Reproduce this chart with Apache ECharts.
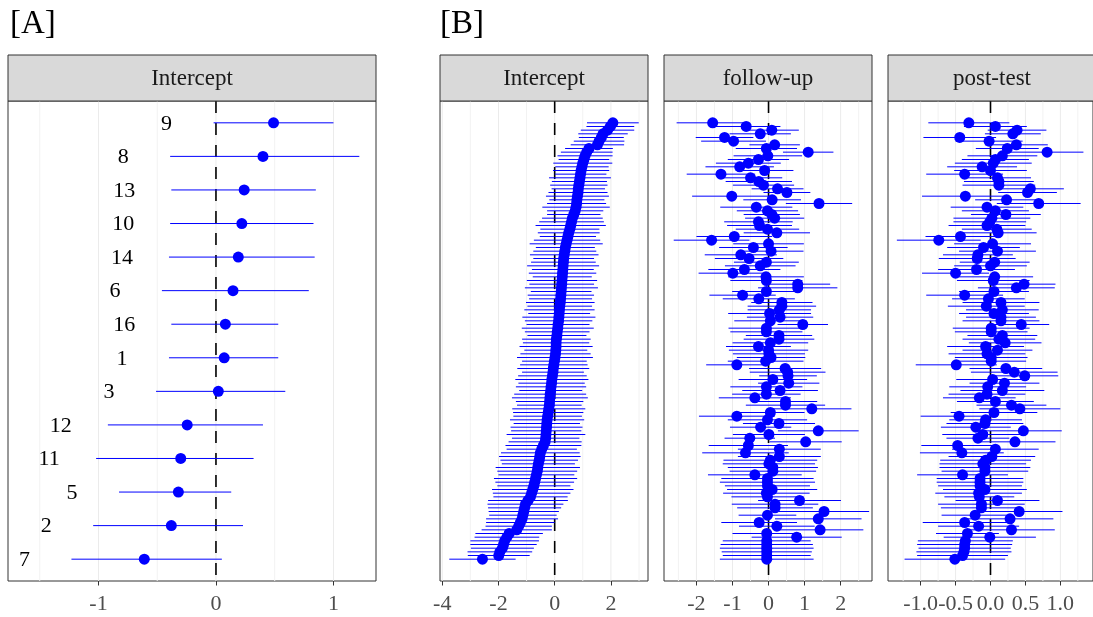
<!DOCTYPE html>
<html>
<head>
<meta charset="utf-8">
<title>Random effects</title>
<script src="https://cdn.jsdelivr.net/npm/echarts@6/dist/echarts.min.js"></script>
<style>
html, body { margin: 0; padding: 0; background: #fff; }
#main { width: 1093px; height: 617px; }
</style>
</head>
<body>
<div id="main"></div>
<script>
// ---- panel [A]: group intercepts, top to bottom ----
var groupsA = ['9', '8', '13', '10', '14', '6', '16', '1', '3', '12', '11', '5', '2', '7'];
var estA  = [0.49, 0.40, 0.24, 0.22, 0.19, 0.145, 0.08, 0.07, 0.02, -0.245, -0.30, -0.32, -0.38, -0.61];
var lowA  = [-0.02, -0.39, -0.38, -0.39, -0.40, -0.46, -0.38, -0.40, -0.51, -0.92, -1.02, -0.825, -1.045, -1.23];
var highA = [1.00, 1.22, 0.85, 0.83, 0.84, 0.79, 0.53, 0.53, 0.59, 0.40, 0.32, 0.13, 0.23, 0.05];

// ---- panel [B]: 120 units, sorted by intercept (top to bottom) ----
var estInt = [
  2.07, 1.98, 1.88, 1.72, 1.66, 1.58, 1.52, 1.22, 1.14, 1.08,
  1.04, 1.00, 0.97, 0.94, 0.92, 0.90, 0.88, 0.86, 0.84, 0.83,
  0.81, 0.79, 0.78, 0.76, 0.73, 0.68, 0.63, 0.60, 0.57, 0.54,
  0.50, 0.47, 0.44, 0.41, 0.38, 0.36, 0.34, 0.32, 0.31, 0.30,
  0.29, 0.28, 0.27, 0.26, 0.25, 0.24, 0.23, 0.22, 0.21, 0.20,
  0.18, 0.17, 0.16, 0.15, 0.14, 0.12, 0.11, 0.09, 0.08, 0.06,
  0.05, 0.05, 0.04, 0.03, 0.01, -0.01, -0.03, -0.05, -0.06, -0.08,
  -0.10, -0.11, -0.13, -0.14, -0.16, -0.17, -0.18, -0.19, -0.21, -0.23,
  -0.25, -0.27, -0.28, -0.29, -0.30, -0.31, -0.32, -0.34, -0.40, -0.46,
  -0.51, -0.53, -0.55, -0.58, -0.60, -0.62, -0.65, -0.68, -0.71, -0.74,
  -0.78, -0.82, -0.86, -0.95, -1.04, -1.07, -1.10, -1.13, -1.16, -1.22,
  -1.28, -1.35, -1.62, -1.70, -1.78, -1.82, -1.86, -1.95, -1.99, -2.57
];
var errInt = [
  0.92, 0.85, 0.95, 0.88, 0.80, 0.90, 0.95, 0.85, 0.92, 0.98,
  0.90, 1.05, 0.95, 1.00, 0.92, 1.10, 0.98, 1.02, 0.95, 1.05,
  1.12, 0.98, 1.05, 1.20, 1.00, 0.95, 1.08, 1.15, 1.25, 1.05,
  1.10, 1.00, 1.18, 1.30, 1.05, 1.12, 1.22, 1.08, 1.15, 1.28,
  1.10, 1.20, 1.05, 1.25, 1.15, 1.30, 1.08, 1.18, 1.12, 1.22,
  1.15, 1.25, 1.10, 1.30, 1.20, 1.12, 1.28, 1.15, 1.05, 1.22,
  1.18, 1.30, 1.12, 1.25, 1.35, 1.15, 1.20, 1.28, 1.10, 1.22,
  1.30, 1.18, 1.25, 1.12, 1.28, 1.35, 1.20, 1.15, 1.30, 1.25,
  1.22, 1.32, 1.18, 1.28, 1.25, 1.40, 1.20, 1.30, 1.35, 1.25,
  1.40, 1.45, 1.38, 1.30, 1.50, 1.42, 1.35, 1.48, 1.40, 1.30,
  1.45, 1.38, 1.32, 1.42, 1.35, 1.30, 1.25, 1.20, 1.28, 1.22,
  1.18, 1.25, 1.20, 1.15, 1.22, 1.18, 1.12, 1.15, 1.10, 1.18
];
var estFollow = [
  -1.55, -0.62, 0.09, -0.23, -1.22, -0.97, 0.17, -0.06, 1.10, -0.02,
  -0.28, -0.56, -0.80, -0.11, -1.32, -0.50, -0.27, -0.14, 0.25, 0.51,
  -1.02, 0.10, 1.40, -0.34, -0.03, 0.09, 0.17, -0.28, -0.25, -0.03,
  0.23, -0.95, -1.58, 0.00, -0.42, 0.07, -0.77, -0.54, -0.06, -0.23,
  -0.67, -0.99, -0.07, -0.06, 0.81, 0.81, -0.06, -0.72, -0.27, 0.37,
  0.37, 0.30, 0.03, 0.32, 0.05, 0.95, -0.06, -0.06, 0.29, 0.29,
  0.05, -0.28, 0.00, 0.01, 0.07, -0.08, -0.88, 0.46, 0.53, 0.54,
  0.12, 0.56, -0.06, 0.32, -0.06, -0.38, 0.47, 0.47, 1.20, 0.05,
  -0.88, -0.03, 0.29, -0.22, 1.38, 0.01, -0.52, 1.03, -0.56, 0.30,
  -0.64, 0.30, 0.05, 0.01, 0.12, 0.12, -0.38, -0.03, -0.03, -0.03,
  0.10, -0.06, -0.03, 0.86, 0.18, 0.18, 1.54, -0.03, 1.38, -0.26,
  0.23, 1.43, -0.05, 0.78, -0.05, -0.05, -0.05, -0.05, -0.05, -0.05
];
var errFollow = [
  1.00, 0.95, 0.75, 0.85, 0.80, 0.90, 0.70, 0.85, 0.70, 0.95,
  0.85, 0.90, 0.95, 0.80, 0.95, 0.88, 0.92, 0.85, 0.72, 0.65,
  1.10, 0.80, 0.92, 1.00, 0.85, 0.78, 0.82, 0.95, 0.90, 0.88,
  0.92, 1.05, 1.05, 0.98, 0.95, 0.90, 1.00, 0.95, 0.90, 0.98,
  1.00, 0.95, 1.05, 1.00, 0.90, 1.10, 0.95, 0.92, 1.00, 0.85,
  0.95, 0.88, 1.15, 0.92, 1.00, 0.70, 1.05, 1.00, 0.92, 0.98,
  1.05, 0.90, 1.10, 1.00, 0.95, 1.05, 0.85, 1.00, 1.05, 0.80,
  0.95, 0.85, 1.00, 1.05, 0.95, 1.00, 0.88, 1.10, 1.10, 0.95,
  1.05, 1.10, 1.00, 0.85, 1.12, 1.00, 0.70, 1.00, 1.10, 1.15,
  1.20, 1.15, 1.30, 1.28, 1.25, 1.20, 1.30, 1.28, 1.32, 1.18,
  1.25, 1.20, 1.00, 1.15, 1.20, 1.05, 1.25, 0.80, 1.20, 1.05,
  1.05, 1.20, 0.95, 1.25, 1.22, 1.28, 1.30, 1.25, 1.22, 1.30
];
var estPost = [
  -0.31, 0.07, 0.38, 0.32, -0.44, -0.02, 0.37, 0.24, 0.81, 0.17,
  0.07, 0.04, -0.12, 0.00, -0.37, 0.10, 0.12, 0.12, 0.57, 0.53,
  -0.36, 0.23, 0.69, -0.05, 0.07, 0.22, 0.02, -0.01, -0.05, 0.09,
  0.11, -0.43, -0.74, 0.03, -0.10, 0.10, -0.18, -0.19, 0.06, 0.00,
  -0.20, -0.50, 0.06, 0.04, 0.48, 0.37, 0.05, -0.37, -0.03, 0.15,
  -0.06, 0.17, 0.05, 0.15, 0.15, 0.44, 0.01, 0.01, 0.17, 0.12,
  0.21, -0.07, 0.10, -0.05, 0.01, 0.01, -0.49, 0.22, 0.34, 0.49,
  0.03, 0.20, -0.04, 0.17, -0.05, -0.16, 0.07, 0.30, 0.42, 0.05,
  -0.45, -0.07, -0.08, -0.21, 0.47, -0.11, -0.18, 0.35, -0.47, 0.07,
  -0.41, 0.02, -0.07, -0.11, -0.08, -0.08, -0.40, -0.15, -0.15, -0.15,
  -0.08, -0.17, -0.16, 0.10, -0.13, -0.13, 0.41, -0.22, 0.28, -0.37,
  -0.17, 0.30, -0.33, -0.01, -0.36, -0.37, -0.37, -0.38, -0.40, -0.51
];
var errPost = [
  0.58, 0.45, 0.42, 0.40, 0.52, 0.48, 0.45, 0.45, 0.52, 0.50,
  0.48, 0.55, 0.50, 0.52, 0.55, 0.48, 0.50, 0.52, 0.48, 0.42,
  0.62, 0.45, 0.60, 0.52, 0.48, 0.50, 0.55, 0.52, 0.55, 0.50,
  0.55, 0.50, 0.60, 0.55, 0.52, 0.55, 0.50, 0.55, 0.50, 0.52,
  0.55, 0.48, 0.55, 0.52, 0.45, 0.55, 0.50, 0.55, 0.52, 0.55,
  0.55, 0.52, 0.50, 0.50, 0.55, 0.40, 0.55, 0.52, 0.50, 0.52,
  0.52, 0.55, 0.50, 0.55, 0.52, 0.50, 0.58, 0.52, 0.62, 0.48,
  0.52, 0.50, 0.55, 0.60, 0.55, 0.52, 0.55, 0.50, 0.58, 0.62,
  0.55, 0.52, 0.55, 0.50, 0.55, 0.58, 0.45, 0.58, 0.52, 0.62,
  0.60, 0.62, 0.65, 0.62, 0.65, 0.62, 0.65, 0.62, 0.62, 0.60,
  0.60, 0.62, 0.50, 0.60, 0.62, 0.58, 0.62, 0.48, 0.62, 0.60,
  0.58, 0.62, 0.45, 0.66, 0.68, 0.68, 0.66, 0.68, 0.65, 0.72
];

// axis breaks (labelled) and minor grid positions for each facet
var ticksA  = [-1, 0, 1];
var minorA  = [-1.5, -0.5, 0.5];
var ticksB1 = [-4, -2, 0, 2];
var minorB1 = [-3, -1, 1, 3];
var ticksB2 = [-2, -1, 0, 1, 2];
var minorB2 = [-2.5, -1.5, -0.5, 0.5, 1.5, 2.5];
var ticksB3 = [-1, -0.5, 0, 0.5, 1];
var minorB3 = [-1.25, -0.75, -0.25, 0.25, 0.75, 1.25];

var stripNames = ['Intercept', 'Intercept', 'follow-up', 'post-test'];

var serif = "'Liberation Serif', 'DejaVu Serif', serif";
var BLUE = '#0000FF';

var panels = [
  {left: 8,   width: 368, min: -1.77, max: 1.362, n: groupsA.length, ticks: ticksA,  minor: minorA,  digits: 0},
  {left: 440, width: 208, min: -4.08, max: 3.32,  n: estInt.length,  ticks: ticksB1, minor: minorB1, digits: 0},
  {left: 664, width: 208, min: -2.90, max: 2.87,  n: estInt.length,  ticks: ticksB2, minor: minorB2, digits: 0},
  {left: 888, width: 208, min: -1.467, max: 1.467, n: estInt.length, ticks: ticksB3, minor: minorB3, digits: 1}
];
var PTOP = 101, PH = 480, STRIP_TOP = 55;

var grids = [], xAxes = [], yAxes = [], series = [], graphics = [];

// gridlines + dashed zero line
function guideSeries(idx, ticks, minor) {
  var data = minor.map(function (v) { return [v, 0, 0]; })
    .concat(ticks.map(function (v) { return [v, 0, 1]; }));
  data.push([0, 0, 2]);
  return {
    type: 'custom', xAxisIndex: idx, yAxisIndex: idx, z: 1, silent: true,
    encode: {x: 0, y: 1},
    data: data,
    renderItem: function (params, api) {
      var x = api.coord([api.value(0), 0])[0];
      var cs = params.coordSys;
      var kind = api.value(2);
      var style;
      if (kind === 2) style = {stroke: '#000000', lineWidth: 1.6, lineDash: [12, 10]};
      else style = {stroke: kind === 1 ? '#EBEBEB' : '#F2F2F2', lineWidth: 1};
      return {type: 'line', shape: {x1: x, y1: cs.y, x2: x, y2: cs.y + cs.height}, style: style};
    }
  };
}

function barSeries(idx, data) {
  return {
    type: 'custom', xAxisIndex: idx, yAxisIndex: idx, z: 2, silent: true,
    encode: {x: [0, 1], y: 2},
    data: data,
    renderItem: function (params, api) {
      var a = api.coord([api.value(0), api.value(2)]);
      var b = api.coord([api.value(1), api.value(2)]);
      return {type: 'line', shape: {x1: a[0], y1: a[1], x2: b[0], y2: b[1]},
              style: {stroke: BLUE, lineWidth: 1}};
    }
  };
}

function pointSeries(idx, est) {
  return {
    type: 'scatter', xAxisIndex: idx, yAxisIndex: idx, z: 3, silent: true,
    symbol: 'circle', symbolSize: 11,
    itemStyle: {color: BLUE, opacity: 1},
    data: est.map(function (v, i) { return [v, i]; })
  };
}

panels.forEach(function (p, idx) {
  grids.push({left: p.left, top: PTOP, width: p.width, height: PH, show: true,
              borderColor: '#333333', borderWidth: 1, backgroundColor: '#FFFFFF', containLabel: false});
  xAxes.push({
    type: 'value', gridIndex: idx, min: p.min, max: p.max,
    axisLine: {show: false, onZero: false},
    axisTick: {show: true, length: 4.5, customValues: p.ticks, lineStyle: {color: '#333333', width: 1}},
    axisLabel: {show: true, customValues: p.ticks, margin: 12, color: '#4D4D4D',
                fontFamily: serif, fontSize: 22,
                formatter: function (v) { return Number(v).toFixed(p.digits); }},
    splitLine: {show: false}
  });
  yAxes.push({type: 'value', gridIndex: idx, inverse: true, show: false,
              min: -0.05 * (p.n - 1), max: 1.05 * (p.n - 1)});
  series.push(guideSeries(idx, p.ticks, p.minor));

  // facet strip
  graphics.push({type: 'rect', z: 10,
    shape: {x: p.left, y: STRIP_TOP, width: p.width, height: PTOP - STRIP_TOP},
    style: {fill: '#D9D9D9', stroke: '#333333', lineWidth: 1}});
  graphics.push({type: 'text', z: 11, x: p.left + p.width / 2, y: 79,
    style: {text: stripNames[idx], fill: '#1A1A1A', font: '23px ' + serif,
            textAlign: 'center', textVerticalAlign: 'middle'}});
});

// panel A
series.push(barSeries(0, estA.map(function (v, i) { return [lowA[i], highA[i], i]; })));
series.push(pointSeries(0, estA));
series.push({
  type: 'custom', xAxisIndex: 0, yAxisIndex: 0, z: 4, silent: true,
  encode: {x: 0, y: 1},
  data: lowA.map(function (lo, i) { return [lo - 0.4, i, groupsA[i]]; }),
  renderItem: function (params, api) {
    var c = api.coord([api.value(0), api.value(1)]);
    return {type: 'text', x: c[0], y: c[1] + 1,
            style: {text: groupsA[params.dataIndex], fill: '#000000', font: '22px ' + serif,
                    textAlign: 'center', textVerticalAlign: 'middle'}};
  }
});

// panel B facets
[[estInt, errInt], [estFollow, errFollow], [estPost, errPost]].forEach(function (f, k) {
  var est = f[0], err = f[1];
  series.push(barSeries(k + 1, est.map(function (v, i) { return [v - err[i], v + err[i], i]; })));
  series.push(pointSeries(k + 1, est));
});

// panel tags
graphics.push({type: 'text', x: 10, y: 24,
  style: {text: '[A]', fill: '#000000', font: '33px ' + serif, textVerticalAlign: 'middle'}});
graphics.push({type: 'text', x: 440, y: 24,
  style: {text: '[B]', fill: '#000000', font: '33px ' + serif, textVerticalAlign: 'middle'}});

var chart = echarts.init(document.getElementById('main'));
chart.setOption({
  animation: false,
  backgroundColor: '#FFFFFF',
  grid: grids,
  xAxis: xAxes,
  yAxis: yAxes,
  series: series,
  graphic: graphics
});
</script>
</body>
</html>
